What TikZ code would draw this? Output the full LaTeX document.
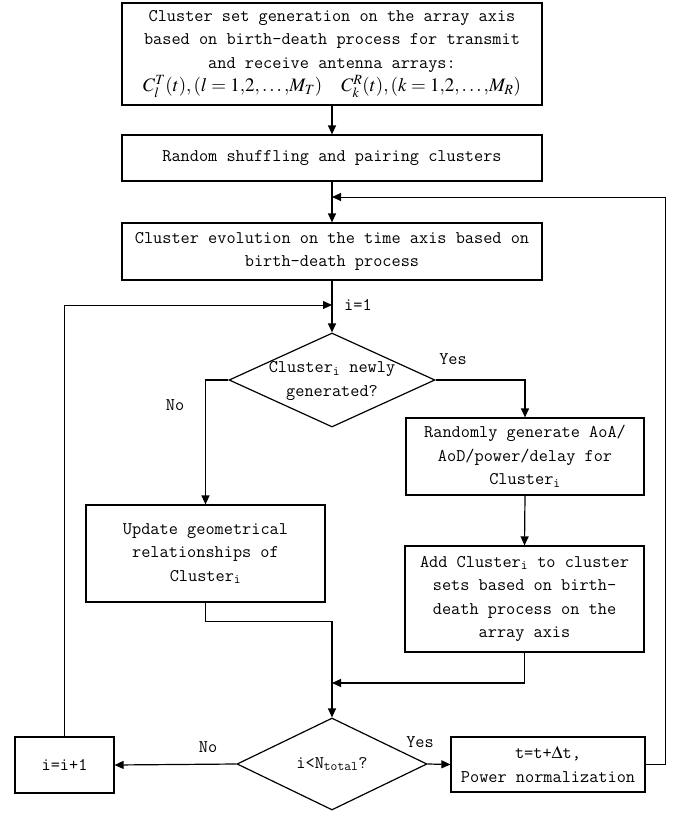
\documentclass[tikz,border=0pt]{standalone}
\usepackage{mathptmx}
\usepackage{fontspec}
\usetikzlibrary{arrows.meta,shapes.geometric}
\tikzset{
  txt/.style={font=\ttfamily\fontsize{17.8}{23.5}\selectfont, align=center, inner sep=0pt},
  box/.style={txt, draw, line width=1.2pt},
  dia/.style={draw, diamond, line width=1.2pt, inner sep=0pt},
  arr/.style={-{Triangle[length=9pt,width=8pt]}, line width=1.2pt},
  thinarr/.style={-{Triangle[length=9pt,width=8pt]}, line width=0.9pt},
  lbl/.style={txt}
}
\begin{document}
\begin{tikzpicture}[x=1pt,y=-1pt]
\useasboundingbox[fill=white] (0,0) rectangle (679,814);
% boxes
\node[box, minimum width=420pt, minimum height=102pt] (b1) at (332,54)
  {Cluster set generation on the array axis\\
   based on birth-death process for transmit\\
   and receive antenna arrays:\\
   {\fontsize{19}{20}\selectfont $C_l^T(t),(l=1{,}2{,}\ldots{,}M_T)\quad C_k^R(t),(k=1{,}2{,}\ldots{,}M_R)$}};
\node[box, minimum width=420pt, minimum height=46pt] (b2) at (332,158)
  {Random shuffling and pairing clusters};
\node[box, minimum width=420pt, minimum height=57pt] (b3) at (332,251.5)
  {Cluster evolution on the time axis based on\\birth-death process};
\node[dia, minimum width=206pt, minimum height=94pt] (d1) at (332,380) {};
\node[txt] (d1t) at (332,381) {Cluster\textsubscript{i} newly\\generated?};
\node[box, minimum width=238pt, minimum height=77pt] (r) at (525,456.5)
  {Randomly generate AoA/\\AoD/power/delay for\\Cluster\textsubscript{i}};
\node[box, minimum width=239pt, minimum height=97pt] (u) at (205.5,553.5)
  {Update geometrical\\relationships of\\Cluster\textsubscript{i}};
\node[box, minimum width=239pt, minimum height=106pt] (a) at (524.5,599)
  {Add Cluster\textsubscript{i} to cluster\\sets based on birth-\\death process on the\\array axis};
\node[dia, minimum width=190pt, minimum height=92pt] (d2) at (332,764) {};
\node[txt] (d2t) at (332,764) {i<N\textsubscript{total}?};
\node[box, minimum width=99pt, minimum height=56pt] (inc) at (64.5,765) {i=i+1};
\node[box, minimum width=194pt, minimum height=55pt] (tb) at (548,764.5)
  {t=t+$\Delta$t,\\Power normalization};
% junctions
\coordinate (j1) at (332,197);
\coordinate (j2) at (332,305);
\coordinate (j3) at (332,683);
% connectors
\draw[arr] (b1.south) -- (b2.north);
\draw[arr] (b2.south) -- (b3.north);
\draw[thinarr] (tb.east) -- ++(20,0) |- (j1);
\draw[arr] (b3.south) -- (d1.north);
\draw[thinarr] (inc.north) |- (j2);
\draw[arr] (d1.east) -| (r.north);
\draw[arr] (d1.west) -| (u.north);
\draw[arr] (r.south) -- (a.north);
\draw[arr] (u.south) -- ++(0,19) -| (d2.north);
\draw[arr] (a.south) |- (j3);
\draw[arr] (d2.west) -- (inc.east);
\draw[arr] (d2.east) -- (tb.west);
% labels
\node[lbl, anchor=west] (li1) at (344,305) {i=1};
\node[lbl] (lyes1) at (453,359) {Yes};
\node[lbl] (lno1) at (175,405) {No};
\node[lbl] (lyes2) at (420,742) {Yes};
\node[lbl] (lno2) at (208,747) {No};
\end{tikzpicture}
\end{document}
